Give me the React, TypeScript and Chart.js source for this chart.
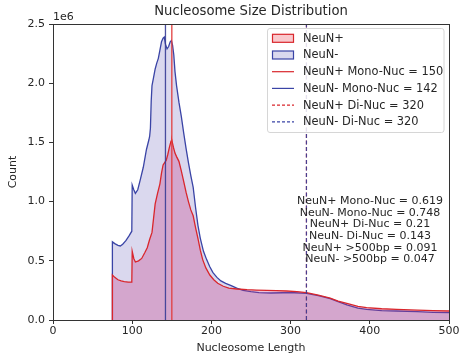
import React, { useEffect, useRef } from "react";
import { Chart, registerables } from "chart.js";
Chart.register(...registerables);

const chartTitle = "Nucleosome Size Distribution";
const xTitle = "Nucleosome Length";
const yTitle = "Count";
const yOffsetLabel = "1e6";

// NeuN+ histogram outline (x = length, y = count in millions)
const posX = [75, 75, 78, 82, 86, 90, 95, 99.5, 100, 102, 104, 108, 112, 116, 119, 122, 125, 127, 129, 132, 135, 137, 139, 141, 143, 145, 147, 149, 150, 152, 154, 156, 159, 162, 165, 168, 171, 174, 177, 180, 183, 186, 189, 193, 198, 203, 208, 215, 222, 232, 245, 257, 270, 282, 295, 308, 320, 335, 350, 360, 371, 385, 396, 415, 434, 460, 480, 500];
const posY = [0, 0.38, 0.36, 0.34, 0.33, 0.325, 0.32, 0.32, 0.58, 0.52, 0.49, 0.5, 0.52, 0.57, 0.61, 0.68, 0.74, 0.86, 0.98, 1.07, 1.15, 1.24, 1.31, 1.33, 1.35, 1.4, 1.46, 1.51, 1.52, 1.46, 1.41, 1.38, 1.34, 1.26, 1.17, 1.08, 1.0, 0.93, 0.88, 0.78, 0.69, 0.59, 0.51, 0.44, 0.38, 0.34, 0.31, 0.285, 0.27, 0.262, 0.256, 0.253, 0.25, 0.248, 0.245, 0.24, 0.232, 0.21, 0.185, 0.16, 0.14, 0.115, 0.104, 0.095, 0.09, 0.083, 0.079, 0.076];

// NeuN- histogram outline
const negX = [75, 75, 78, 82, 85, 88, 92, 96, 99.5, 100, 102, 104, 107, 110, 114, 118, 121, 122, 123, 124, 125, 127, 129, 131, 133, 135, 137, 139, 140.5, 142, 144, 146, 148, 149.5, 151, 152.5, 154, 156, 159, 162, 165, 168, 171, 174, 177, 180, 183, 186, 190, 194, 198, 202, 207, 212, 218, 225, 232, 240, 250, 260, 275, 290, 305, 320, 335, 350, 360, 371, 385, 396, 415, 434, 460, 480, 500];
const negY = [0, 0.66, 0.645, 0.63, 0.625, 0.64, 0.67, 0.71, 0.75, 1.14, 1.1, 1.07, 1.1, 1.18, 1.29, 1.44, 1.52, 1.55, 1.62, 1.85, 1.98, 2.05, 2.12, 2.17, 2.21, 2.28, 2.35, 2.38, 2.39, 2.33, 2.29, 2.31, 2.35, 2.36, 2.32, 2.24, 2.1, 1.98, 1.84, 1.72, 1.58, 1.45, 1.33, 1.22, 1.12, 0.95, 0.8, 0.69, 0.58, 0.51, 0.45, 0.4, 0.36, 0.33, 0.31, 0.29, 0.27, 0.25, 0.24, 0.232, 0.228, 0.23, 0.23, 0.225, 0.205, 0.18, 0.155, 0.127, 0.1, 0.09, 0.08, 0.076, 0.07, 0.065, 0.062];

const monoPos = 150;
const monoNeg = 142;
const diPos = 320;
const diNeg = 320;

const legendLabels = [
  "NeuN+",
  "NeuN-",
  "NeuN+ Mono-Nuc = 150",
  "NeuN- Mono-Nuc = 142",
  "NeuN+ Di-Nuc = 320",
  "NeuN- Di-Nuc = 320",
];

const statLines = [
  "NeuN+ Mono-Nuc = 0.619",
  "NeuN- Mono-Nuc = 0.748",
  "NeuN+ Di-Nuc = 0.21",
  "NeuN- Di-Nuc = 0.143",
  "NeuN+ >500bp = 0.091",
  "NeuN- >500bp = 0.047",
];

const xMin = 0, xMax = 500, xStep = 100;
const yMin = 0, yMax = 2.5, yStep = 0.5;

const RED = "#d9262c";
const BLUE = "#3a44a6";
const RED_FILL = "rgba(200,50,130,0.30)";
const BLUE_FILL = "rgba(70,60,170,0.20)";
const RED_VLINE = "rgba(225,60,60,0.85)";
const BLUE_VLINE = "rgba(55,60,150,0.9)";
const FONT = "'DejaVu Sans', sans-serif";
const TXT = "#262626";

const pts = (xs: number[], ys: number[]) => xs.map((x, i) => ({ x, y: ys[i] }));
const vline = (x: number) => [{ x, y: yMin }, { x, y: yMax }];

export default function App() {
  const ref = useRef<HTMLCanvasElement | null>(null);
  useEffect(() => {
    if (!ref.current) return;
    const overlay = {
      id: "overlay",
      afterDraw(chart: any) {
        const ctx = chart.ctx as CanvasRenderingContext2D;
        const a = chart.chartArea;
        ctx.save();
        // frame
        ctx.strokeStyle = "#333";
        ctx.lineWidth = 1;
        ctx.strokeRect(Math.round(a.left) + 0.5, Math.round(a.top) + 0.5, Math.round(a.right - a.left), Math.round(a.bottom - a.top));
        // title
        ctx.fillStyle = TXT;
        ctx.font = `13.2px ${FONT}`;
        ctx.textAlign = "center";
        ctx.textBaseline = "middle";
        ctx.fillText(chartTitle, (a.left + a.right) / 2, 12);
        // offset label
        ctx.font = `11px ${FONT}`;
        ctx.textAlign = "left";
        ctx.textBaseline = "alphabetic";
        ctx.fillText(yOffsetLabel, a.left, 20);
        // stats text
        ctx.textAlign = "center";
        ctx.textBaseline = "middle";
        statLines.forEach((s, i) => ctx.fillText(s, 370, 201 + i * 11.7));
        // legend
        const lx = 267.5, ly = 28.5, lw = 176.5, lh = 104;
        ctx.beginPath();
        (ctx as any).roundRect(lx, ly, lw, lh, 2.5);
        ctx.fillStyle = "rgba(255,255,255,0.85)";
        ctx.fill();
        ctx.strokeStyle = "#d6d6d6";
        ctx.lineWidth = 1;
        ctx.stroke();
        const px = 272, pw = 22;
        legendLabels.forEach((lab, i) => {
          const cy = 38.3 + i * 16.7;
          if (i < 2) {
            ctx.fillStyle = "#fff";
            ctx.fillRect(px, cy - 4, pw, 8);
            ctx.fillStyle = i === 0 ? "rgba(240,120,130,0.4)" : BLUE_FILL;
            ctx.fillRect(px, cy - 4, pw, 8);
            ctx.strokeStyle = i === 0 ? RED : BLUE;
            ctx.lineWidth = 1.2;
            ctx.strokeRect(px + 0.5, cy - 4, pw - 1, 8);
          } else {
            ctx.strokeStyle = i % 2 === 0 ? RED : BLUE;
            ctx.lineWidth = 1.2;
            ctx.setLineDash(i >= 4 ? [3, 2] : []);
            ctx.beginPath();
            ctx.moveTo(px, cy);
            ctx.lineTo(px + pw, cy);
            ctx.stroke();
            ctx.setLineDash([]);
          }
          ctx.fillStyle = TXT;
          ctx.font = `11.4px ${FONT}`;
          ctx.textAlign = "left";
          ctx.textBaseline = "middle";
          ctx.fillText(lab, 303, cy + 0.5);
        });
        ctx.restore();
      },
    };
    const chart = new Chart(ref.current, {
      type: "line",
      data: {
        datasets: [
          { label: legendLabels[5], data: vline(diNeg), borderColor: BLUE_VLINE, borderWidth: 1.2, borderDash: [4, 2.5], order: 0 },
          { label: legendLabels[4], data: vline(diPos), borderColor: RED_VLINE, borderWidth: 1.2, borderDash: [4, 2.5], order: 1 },
          { label: legendLabels[3], data: vline(monoNeg), borderColor: BLUE_VLINE, borderWidth: 1.3, order: 2 },
          { label: legendLabels[2], data: vline(monoPos), borderColor: RED_VLINE, borderWidth: 1.5, order: 3 },
          { label: legendLabels[0], data: pts(posX, posY), borderColor: RED, backgroundColor: RED_FILL, borderWidth: 1.3, fill: "origin", order: 4 },
          { label: legendLabels[1], data: pts(negX, negY), borderColor: BLUE, backgroundColor: BLUE_FILL, borderWidth: 1.3, fill: "origin", order: 5 },
        ] as any,
      },
      options: {
        responsive: false,
        animation: false,
        events: [],
        layout: { padding: { top: 24, right: 13, left: 0, bottom: 0 } },
        elements: { point: { radius: 0 }, line: { tension: 0 } },
        plugins: { legend: { display: false }, tooltip: { enabled: false } },
        scales: {
          x: {
            type: "linear",
            min: xMin,
            max: xMax,
            ticks: { stepSize: xStep, color: TXT, font: { family: FONT, size: 11 }, padding: 1, maxRotation: 0 },
            grid: { drawOnChartArea: false, tickLength: 4, color: "#333" },
            border: { color: "#333" },
            title: { display: true, text: xTitle, color: TXT, font: { family: FONT, size: 11 }, padding: { top: 0, bottom: 7 } },
            afterFit: (s: any) => { s.height = 42; },
          },
          y: {
            type: "linear",
            min: yMin,
            max: yMax,
            ticks: { stepSize: yStep, color: TXT, font: { family: FONT, size: 11 }, padding: 4, callback: (v: any) => Number(v).toFixed(1) },
            grid: { drawOnChartArea: false, tickLength: 4, color: "#333" },
            border: { color: "#333" },
            title: { display: true, text: yTitle, color: TXT, font: { family: FONT, size: 11 }, padding: { top: 7, bottom: 0 } },
            afterFit: (s: any) => { s.width = 53; },
          },
        },
      } as any,
      plugins: [overlay],
    });
    return () => chart.destroy();
  }, []);
  return (
    <div style={{ position: "fixed", left: 0, top: 0, width: 462, height: 362, background: "#fff" }}>
      <canvas ref={ref} width={462} height={362} />
    </div>
  );
}
